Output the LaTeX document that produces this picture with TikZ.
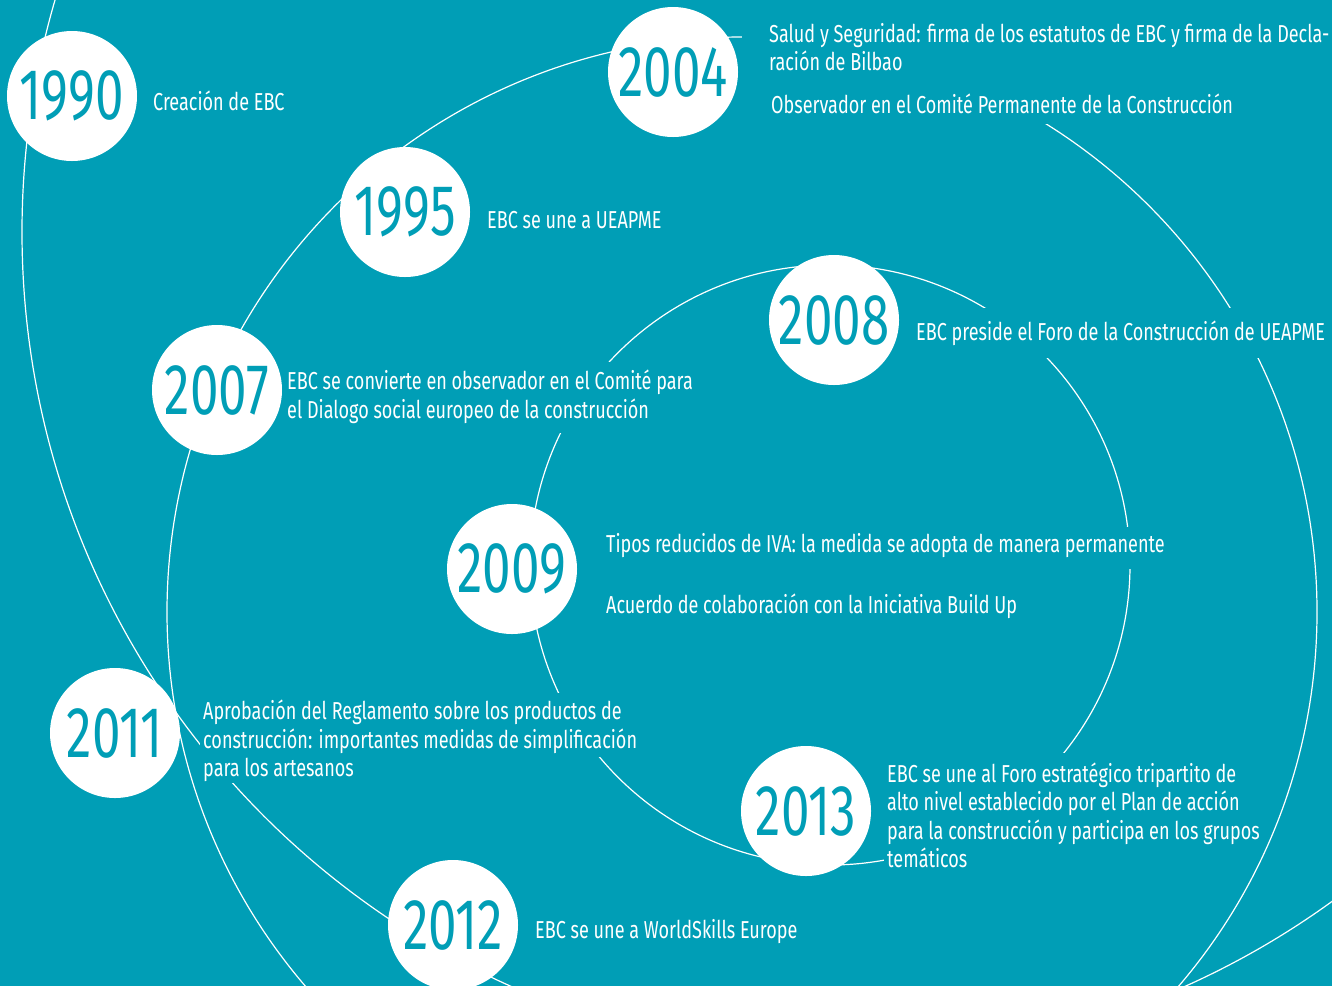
\documentclass[tikz,border=0pt]{standalone}
\usepackage{fontspec}
\newfontfamily\yrfont[FakeStretch=0.71,Numbers=Proportional]{Fira Sans}
\newfontfamily\txfont[FakeStretch=0.736]{Fira Sans}
\definecolor{bg}{RGB}{0,158,182}
\begin{document}
\begin{tikzpicture}[x=1pt,y=-1pt,
  arc/.style={draw=white,line width=1.2pt},
  disc/.style={circle,fill=white,minimum size=130pt,inner sep=0pt,text=bg,
    font=\yrfont\fontsize{72}{72}\selectfont},
  lbl/.style={anchor=base west,fill=bg,text=white,inner xsep=3pt,inner ysep=0pt,
    text height=20pt,text depth=8.5pt,font=\txfont\fontsize{24.5}{28.5}\selectfont},
  mask/.style={fill=bg,inner sep=0pt,anchor=north west}]
\fill[bg,use as bounding box] (0,0) rectangle (1332,986);
\clip (0,0) rectangle (1332,986);
% spiral arcs (three circles)
\coordinate (cA) at (848,232);
\coordinate (cB) at (742,612);
\coordinate (cC) at (830,565);
\draw[arc] (cA) circle[radius=826];
\draw[arc] (cB) circle[radius=575];
\draw[arc] (cC) circle[radius=300];
% text
\node[mask,minimum width=600pt,minimum height=110pt] (m2004) at (742,14) {};
\node[lbl] (t1990) at (150,110) {Creación de EBC};
\node[lbl] (t1995) at (484,228) {EBC se une a UEAPME};
\node[lbl,fill=none] (t2004a) at (766,42) {Salud y Seguridad: firma de los estatutos de EBC y firma de la Decla-};
\node[lbl,fill=none] (t2004b) at (766,70) {ración de Bilbao};
\node[lbl,fill=none] (t2004c) at (768,113) {Observador en el Comité Permanente de la Construcción};
\node[lbl,text height=32pt,text depth=18pt] (t2008) at (913,340) {EBC preside el Foro de la Construcción de UEAPME};
\node[lbl,text height=27pt] (t2007a) at (284,389) {EBC se convierte en observador en el Comité para};
\node[lbl,text depth=15pt] (t2007b) at (284,418) {el Dialogo social europeo de la construcción};
\node[lbl,text height=25pt,text depth=17pt] (t2009a) at (603,552) {Tipos reducidos de IVA: la medida se adopta de manera permanente};
\node[lbl] (t2009b) at (603,613) {Acuerdo de colaboración con la Iniciativa Build Up};
\node[lbl,text height=26pt] (t2011a) at (200,719) {Aprobación del Reglamento sobre los productos de};
\node[lbl] (t2011b) at (200,748) {construcción: importantes medidas de simplificación};
\node[lbl,text depth=7pt] (t2011c) at (200,776) {para los artesanos};
\node[lbl] (t2012) at (532,938) {EBC se une a WorldSkills Europe};
\node[lbl,text height=29pt] (t2013a) at (884,782) {EBC se une al Foro estratégico tripartito de};
\node[lbl] (t2013b) at (884,810) {alto nivel establecido por el Plan de acción};
\node[lbl] (t2013c) at (884,839) {para la construcción y participa en los grupos};
\node[lbl] (t2013d) at (884,867) {temáticos};
% year discs
\node[disc] (y1990) at (72,96) {1990};
\node[disc] (y2004) at (673,72) {2004};
\node[disc] (y1995) at (405,212) {1995};
\node[disc] (y2007) at (217,390) {2007};
\node[disc] (y2008) at (834,320) {2008};
\node[disc] (y2009) at (512,569) {2009};
\node[disc] (y2011) at (115,733) {2011};
\node[disc] (y2012) at (453,925) {2012};
\node[disc] (y2013) at (806,811) {2013};
\end{tikzpicture}
\end{document}
